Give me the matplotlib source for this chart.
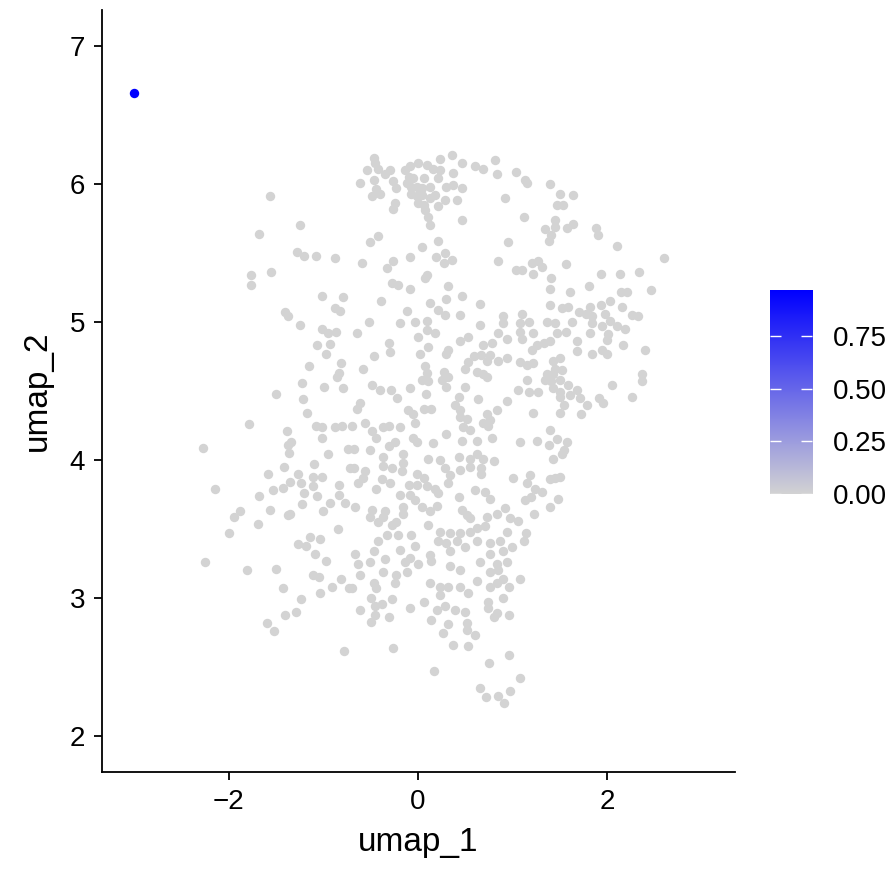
import numpy as np
import matplotlib
matplotlib.use("Agg")
import matplotlib.pyplot as plt
from matplotlib.colors import LinearSegmentedColormap, Normalize

# ── cells with zero expression (umap_1, umap_2), grouped by area ─────────
cells_upper_left = [
    (-1.56, 5.91), (-1.25, 5.70), (-1.68, 5.64), (-1.28, 5.51), (-1.20, 5.48),
    (-1.08, 5.48), (-0.88, 5.46), (-1.76, 5.34), (-1.55, 5.36), (-1.77, 5.27),
]
cells_top = [
    (-0.47, 6.19), (-0.46, 6.15), (-0.54, 6.10), (-0.42, 6.11), (-0.30, 6.10),
    (-0.35, 6.07), (-0.61, 6.01), (-0.47, 6.03), (-0.44, 5.96), (-0.40, 5.93),
    (-0.49, 5.91), (-0.26, 6.02), (-0.23, 5.97), (-0.24, 5.86), (-0.26, 5.82),
    (-0.14, 6.10), (-0.08, 6.13), (0.00, 6.15), (0.09, 6.14), (0.16, 6.11),
    (0.23, 6.18), (0.36, 6.21), (0.46, 6.15), (0.60, 6.13), (0.69, 6.11),
    (0.81, 6.17), (0.83, 6.07), (0.37, 6.08), (0.23, 6.10), (0.21, 6.04),
    (-0.10, 6.05), (-0.05, 6.04), (0.06, 6.04), (-0.12, 6.01), (-0.07, 5.98),
    (-0.01, 5.98), (0.04, 5.97), (0.13, 5.98), (0.30, 5.98), (0.37, 5.99),
    (0.46, 5.97), (-0.07, 5.93), (-0.01, 5.91), (0.04, 5.92), (0.18, 5.92),
    (0.13, 5.90), (0.29, 5.88), (0.41, 5.88), (0.00, 5.86), (0.06, 5.85),
    (0.21, 5.84), (0.07, 5.81), (0.11, 5.76), (0.13, 5.70), (0.46, 5.74),
    (0.92, 5.90), (-0.42, 5.62), (-0.51, 5.58), (0.21, 5.59), (0.04, 5.54),
    (-0.08, 5.47), (0.19, 5.47), (0.28, 5.50), (0.27, 5.43), (0.36, 5.45),
    (-0.59, 5.43), (-0.26, 5.44), (-0.33, 5.39), (0.09, 5.34), (0.07, 5.32),
    (-0.28, 5.28), (-0.21, 5.27), (-0.08, 5.24), (0.32, 5.26), (0.85, 5.44),
    (0.95, 5.58),
]
cells_upper_right = [
    (1.04, 6.09), (1.13, 6.03), (1.15, 6.01), (1.39, 6.00), (1.50, 5.93),
    (1.64, 5.92), (1.47, 5.85), (1.53, 5.85), (1.12, 5.76), (1.45, 5.74),
    (1.34, 5.67), (1.45, 5.69), (1.64, 5.71), (1.57, 5.68), (1.41, 5.63),
    (1.38, 5.59), (1.88, 5.68), (1.90, 5.63), (2.10, 5.55), (2.60, 5.46),
    (1.04, 5.38), (1.10, 5.38), (1.20, 5.43), (1.27, 5.44), (1.31, 5.40),
    (1.22, 5.35), (1.56, 5.42), (1.41, 5.32), (1.93, 5.35), (2.13, 5.35),
    (2.34, 5.36), (1.81, 5.26), (1.40, 5.24), (1.61, 5.22), (2.14, 5.22),
    (2.21, 5.22), (2.46, 5.23),
]
cells_mid_left = [
    (-1.02, 5.19), (-0.79, 5.18), (-1.41, 5.07), (-1.37, 5.04), (-1.25, 4.98),
    (-0.88, 5.10), (-0.82, 5.08), (-1.02, 4.95), (-0.95, 4.92), (-0.87, 4.93),
    (-1.07, 4.83), (-0.93, 4.84), (-0.97, 4.77), (-1.15, 4.68), (-0.81, 4.70),
    (-0.83, 4.63), (-0.86, 4.60), (-1.23, 4.56), (-0.99, 4.53), (-0.79, 4.52),
    (-1.50, 4.48), (-1.22, 4.44), (-1.17, 4.34), (-1.79, 4.26), (-1.38, 4.21),
    (-1.08, 4.25), (-1.02, 4.24), (-0.88, 4.24), (-0.80, 4.25),
]
cells_mid = [
    (-0.39, 5.15), (0.13, 5.14), (0.30, 5.17), (0.46, 5.19), (0.66, 5.13),
    (0.21, 5.09), (0.29, 5.05), (0.44, 5.05), (-0.12, 5.08), (-0.52, 5.00),
    (-0.19, 4.99), (-0.03, 5.00), (0.09, 5.01), (0.66, 4.98), (0.90, 5.04),
    (0.90, 4.99), (-0.64, 4.92), (0.00, 4.89), (0.09, 4.94), (0.18, 4.92),
    (-0.31, 4.85), (-0.30, 4.78), (0.11, 4.82), (0.02, 4.77), (0.32, 4.80),
    (0.30, 4.77), (0.44, 4.86), (0.53, 4.89), (0.69, 4.83), (0.78, 4.85),
    (0.85, 4.92), (0.94, 4.88), (-0.47, 4.75), (-0.58, 4.66), (0.07, 4.68),
    (0.09, 4.63), (0.04, 4.58), (0.11, 4.57), (0.27, 4.64), (0.32, 4.60),
    (0.25, 4.58), (0.30, 4.53), (0.50, 4.66), (0.53, 4.71), (0.59, 4.75),
    (0.62, 4.64), (0.69, 4.62), (0.73, 4.60), (0.67, 4.76), (0.76, 4.76),
    (0.73, 4.72), (0.85, 4.72), (0.94, 4.74), (-0.49, 4.54), (-0.40, 4.51),
    (-0.29, 4.51), (-0.08, 4.52), (0.08, 4.48), (-0.22, 4.45), (0.50, 4.53),
    (0.43, 4.46), (0.63, 4.44), (0.94, 4.43), (-0.61, 4.41), (-0.65, 4.37),
    (-0.11, 4.36), (-0.05, 4.33), (0.06, 4.37), (0.14, 4.37), (0.39, 4.40),
    (0.44, 4.36), (0.44, 4.31), (0.52, 4.30), (0.73, 4.33), (0.83, 4.36),
    (-0.56, 4.27), (-0.70, 4.25), (-0.37, 4.24), (-0.31, 4.25), (-0.19, 4.24),
    (-0.03, 4.27), (-0.49, 4.21), (0.30, 4.19), (0.48, 4.24), (0.55, 4.22),
    (0.69, 4.27), (0.76, 4.29), (0.74, 4.25),
]
cells_mid_right = [
    (1.40, 5.12), (1.52, 5.10), (1.59, 5.11), (1.70, 5.07), (1.82, 5.11),
    (1.93, 5.12), (2.03, 5.15), (2.16, 5.11), (1.10, 5.06), (1.36, 5.00),
    (1.45, 4.99), (1.63, 5.00), (1.77, 5.06), (1.84, 5.04), (1.98, 5.06),
    (2.03, 5.01), (2.26, 5.05), (2.33, 5.04), (1.08, 4.99), (1.17, 5.00),
    (1.84, 4.99), (1.94, 4.97), (2.10, 4.97), (2.19, 4.95), (1.08, 4.93),
    (1.22, 4.92), (1.47, 4.92), (1.56, 4.93), (1.82, 4.92), (2.01, 4.91),
    (1.10, 4.88), (1.40, 4.86), (1.33, 4.85), (1.26, 4.83), (1.20, 4.80),
    (1.68, 4.86), (2.00, 4.87), (2.17, 4.83), (2.40, 4.80), (1.68, 4.79),
    (1.84, 4.77), (1.94, 4.80), (2.00, 4.77), (1.43, 4.72), (1.50, 4.74),
    (1.08, 4.71), (1.15, 4.69), (1.22, 4.70), (1.45, 4.66), (1.52, 4.65),
    (1.36, 4.62), (1.43, 4.62), (1.34, 4.58), (1.41, 4.57), (1.15, 4.58),
    (1.50, 4.58), (1.59, 4.54), (1.06, 4.51), (1.17, 4.49), (1.27, 4.49),
    (1.43, 4.52), (1.50, 4.49), (1.68, 4.51), (2.05, 4.54), (2.37, 4.62),
    (2.37, 4.57), (1.50, 4.46), (1.61, 4.47), (1.71, 4.45), (1.91, 4.45),
    (1.96, 4.41), (2.26, 4.46), (1.79, 4.40), (1.54, 4.40), (1.50, 4.34),
    (1.22, 4.34), (1.72, 4.33), (1.40, 4.22),
]
cells_lower_left = [
    (-2.27, 4.09), (-2.15, 3.79), (-1.59, 3.90), (-1.42, 3.95), (-1.35, 3.84),
    (-1.27, 3.90), (-1.24, 3.83), (-1.11, 3.88), (-1.10, 3.97), (-1.02, 3.88),
    (-1.11, 3.81), (-1.53, 3.78), (-1.43, 3.80), (-1.68, 3.74), (-1.20, 3.76),
    (-1.07, 3.74), (-0.83, 3.82), (-0.83, 3.75), (-0.77, 3.69), (-0.93, 3.69),
    (-1.00, 3.63), (-1.23, 3.68), (-1.56, 3.64), (-1.88, 3.63), (-1.95, 3.59),
    (-1.37, 3.60), (-1.35, 3.61), (-1.69, 3.54), (-2.00, 3.47), (-0.85, 3.50),
    (-1.14, 3.44), (-1.27, 3.39), (-1.18, 3.38), (-1.04, 3.43), (-1.09, 3.32),
    (-0.97, 3.27), (-2.25, 3.26), (-1.81, 3.20), (-1.50, 3.21), (-1.11, 3.17),
    (-1.05, 3.15), (-0.81, 3.14), (-1.37, 4.11), (-1.34, 4.13), (-1.36, 4.05),
    (-1.02, 4.16), (-0.95, 4.04), (-0.74, 4.08), (-0.72, 3.94),
]
cells_lower_mid = [
    (-0.68, 4.08), (-0.51, 4.07), (-0.44, 4.16), (-0.31, 4.10), (-0.24, 4.13),
    (-0.16, 4.04), (-0.37, 4.02), (-0.37, 3.96), (-0.28, 3.94), (-0.17, 3.92),
    (-0.16, 3.98), (-0.05, 4.16), (-0.01, 4.13), (0.16, 4.12), (0.46, 4.14),
    (0.62, 4.14), (0.78, 4.16), (0.11, 4.01), (0.23, 4.00), (0.29, 3.94),
    (0.43, 4.02), (0.55, 4.01), (0.62, 4.04), (0.69, 4.01), (0.80, 3.99),
    (0.55, 3.95), (0.44, 3.93), (0.67, 3.94), (0.67, 3.90), (-0.68, 3.94),
    (-0.56, 3.92), (-0.58, 3.87), (-0.63, 3.83), (-0.38, 3.86), (-0.30, 3.83),
    (-0.44, 3.79), (-0.01, 3.90), (0.06, 3.87), (-0.10, 3.82), (-0.01, 3.82),
    (0.09, 3.81), (0.18, 3.79), (0.21, 3.76), (0.32, 3.83), (0.34, 3.89),
    (0.60, 3.78), (0.71, 3.77), (0.76, 3.72), (-0.19, 3.75), (-0.08, 3.75),
    (-0.03, 3.71), (0.04, 3.66), (0.20, 3.67), (0.13, 3.63), (-0.16, 3.66),
    (-0.16, 3.61), (0.43, 3.73), (-0.67, 3.66), (-0.49, 3.64), (-0.51, 3.59),
    (-0.35, 3.63), (-0.37, 3.59), (-0.42, 3.55), (-0.23, 3.55), (-0.28, 3.53),
    (0.11, 3.53), (0.46, 3.64), (0.52, 3.60), (0.55, 3.58), (0.73, 3.59),
    (0.83, 3.61), (0.92, 3.65), (-0.33, 3.46), (-0.21, 3.46), (-0.07, 3.46),
    (0.23, 3.48), (0.34, 3.47), (0.44, 3.47), (0.55, 3.48), (0.62, 3.51),
    (0.71, 3.52), (0.94, 3.48), (-0.42, 3.41), (-0.03, 3.38), (0.21, 3.41),
    (0.30, 3.40), (0.41, 3.41), (0.50, 3.37), (0.62, 3.41), (0.76, 3.40),
    (0.87, 3.41), (-0.67, 3.32), (-0.47, 3.34), (-0.19, 3.35), (-0.08, 3.29),
    (0.13, 3.31), (0.34, 3.34), (0.76, 3.32), (0.90, 3.34), (-0.63, 3.25),
    (-0.51, 3.26), (-0.35, 3.28), (-0.14, 3.26), (0.00, 3.25), (0.14, 3.27),
    (0.34, 3.23), (0.66, 3.26), (0.83, 3.25), (0.94, 3.26), (-0.61, 3.17),
    (-0.37, 3.19), (-0.23, 3.17), (-0.12, 3.19), (0.44, 3.20), (0.76, 3.19),
    (0.85, 3.20), (0.90, 3.14),
]
cells_lower_right = [
    (1.08, 4.13), (1.26, 4.14), (1.38, 4.11), (1.47, 4.15), (1.57, 4.13),
    (1.54, 4.07), (1.52, 4.04), (1.43, 4.01), (1.00, 3.87), (1.18, 3.89),
    (1.15, 3.83), (1.24, 3.79), (1.31, 3.77), (1.40, 3.86), (1.45, 3.87),
    (1.50, 3.88), (1.13, 3.71), (1.19, 3.73), (1.23, 3.61), (1.39, 3.66),
    (1.48, 3.72), (1.06, 3.56), (0.97, 3.58), (1.14, 3.47), (1.12, 3.41),
    (0.99, 3.37), (1.08, 3.14),
]
cells_bottom_left = [
    (-1.43, 3.07), (-1.24, 2.99), (-1.41, 2.88), (-1.29, 2.90), (-1.60, 2.82),
    (-1.52, 2.76), (-1.04, 3.04), (-0.91, 3.08), (-0.73, 3.07), (-0.78, 2.62),
]
cells_bottom = [
    (-0.70, 3.07), (-0.47, 3.11), (-0.44, 3.07), (-0.24, 3.11), (-0.50, 3.00),
    (-0.38, 2.96), (-0.46, 2.94), (-0.27, 2.99), (-0.61, 2.91), (-0.46, 2.88),
    (-0.50, 2.83), (-0.31, 2.86), (-0.08, 2.93), (0.06, 2.97), (0.13, 3.11),
    (0.23, 3.08), (0.32, 3.08), (0.44, 3.08), (0.53, 3.04), (0.62, 3.12),
    (0.76, 3.08), (0.83, 3.11), (0.96, 3.08), (0.23, 3.02), (0.20, 2.91),
    (0.29, 2.94), (0.39, 2.91), (0.50, 2.90), (0.14, 2.84), (0.32, 2.81),
    (0.52, 2.82), (0.52, 2.77), (0.60, 2.73), (0.26, 2.75), (0.37, 2.66),
    (0.53, 2.65), (0.74, 2.97), (0.74, 2.93), (0.83, 2.89), (0.80, 2.86),
    (0.90, 3.00), (0.96, 2.88), (-0.26, 2.64), (0.17, 2.47), (0.75, 2.53),
    (0.96, 2.59), (0.66, 2.35), (0.72, 2.28), (0.85, 2.29), (0.91, 2.24),
    (0.97, 2.33), (1.08, 2.42),
]

# the single expressing cell
expr_umap_1 = [-3.00]
expr_umap_2 = [6.66]
expr_level = [0.97]

cbar_breaks = [0.00, 0.25, 0.50, 0.75]
x_breaks = [-2, 0, 2]
y_breaks = [2, 3, 4, 5, 6, 7]

GREY = "#D3D3D3"
BLUE = "#0000FF"

grey_cells = np.array(
    cells_upper_left + cells_top + cells_upper_right + cells_mid_left
    + cells_mid + cells_mid_right + cells_lower_left + cells_lower_mid
    + cells_lower_right + cells_bottom_left + cells_bottom
)

plt.rcParams["font.family"] = ["Liberation Sans", "DejaVu Sans"]

cmap = LinearSegmentedColormap.from_list("feature", [GREY, BLUE])
norm = Normalize(0, max(expr_level))

W, H = 887, 875
fig = plt.figure(figsize=(W / 100, H / 100), dpi=100)
ax = fig.add_axes([102 / W, 103 / H, 633 / W, 762 / H])

ax.scatter(grey_cells[:, 0], grey_cells[:, 1], s=46, color=cmap(norm(0.0)),
           linewidths=0, zorder=2)
ax.scatter(expr_umap_1, expr_umap_2, c=expr_level, cmap=cmap, norm=norm,
           s=46, linewidths=0, zorder=3)

ax.set_xlim(-3.34, 3.35)
ax.set_ylim(1.74, 7.26)
ax.set_xticks(x_breaks)
ax.set_yticks(y_breaks)
for s in ("top", "right"):
    ax.spines[s].set_visible(False)
for s in ("left", "bottom"):
    ax.spines[s].set_linewidth(1.3)
ax.tick_params(direction="out", length=6, width=1.3, labelsize=20,
               pad=6, colors="black")
ax.set_xlabel("umap_1", fontsize=24, labelpad=9)
ax.set_ylabel("umap_2", fontsize=24, labelpad=12)

# ── colour bar ──────────────────────────────────────────────────────────
cax = fig.add_axes([770 / W, 381 / H, 42 / W, 204 / H])
grad = np.linspace(0, max(expr_level), 256).reshape(-1, 1)
cax.imshow(grad, cmap=cmap, norm=norm, aspect="auto", origin="lower",
           extent=[0, 1, 0, max(expr_level)])
cax.set_xlim(0, 1)
cax.set_ylim(0, max(expr_level))
cax.set_xticks([])
cax.set_yticks(cbar_breaks)
cax.set_yticklabels([f"{b:.2f}" for b in cbar_breaks])
cax.yaxis.set_ticks_position("both")
cax.tick_params(axis="y", direction="in", length=8, width=1, color="white",
                labelcolor="black", labelsize=20, left=True, right=True,
                labelleft=False, labelright=True, pad=15)
for s in cax.spines.values():
    s.set_visible(False)

fig.savefig("out.png", dpi=100, facecolor="white")
